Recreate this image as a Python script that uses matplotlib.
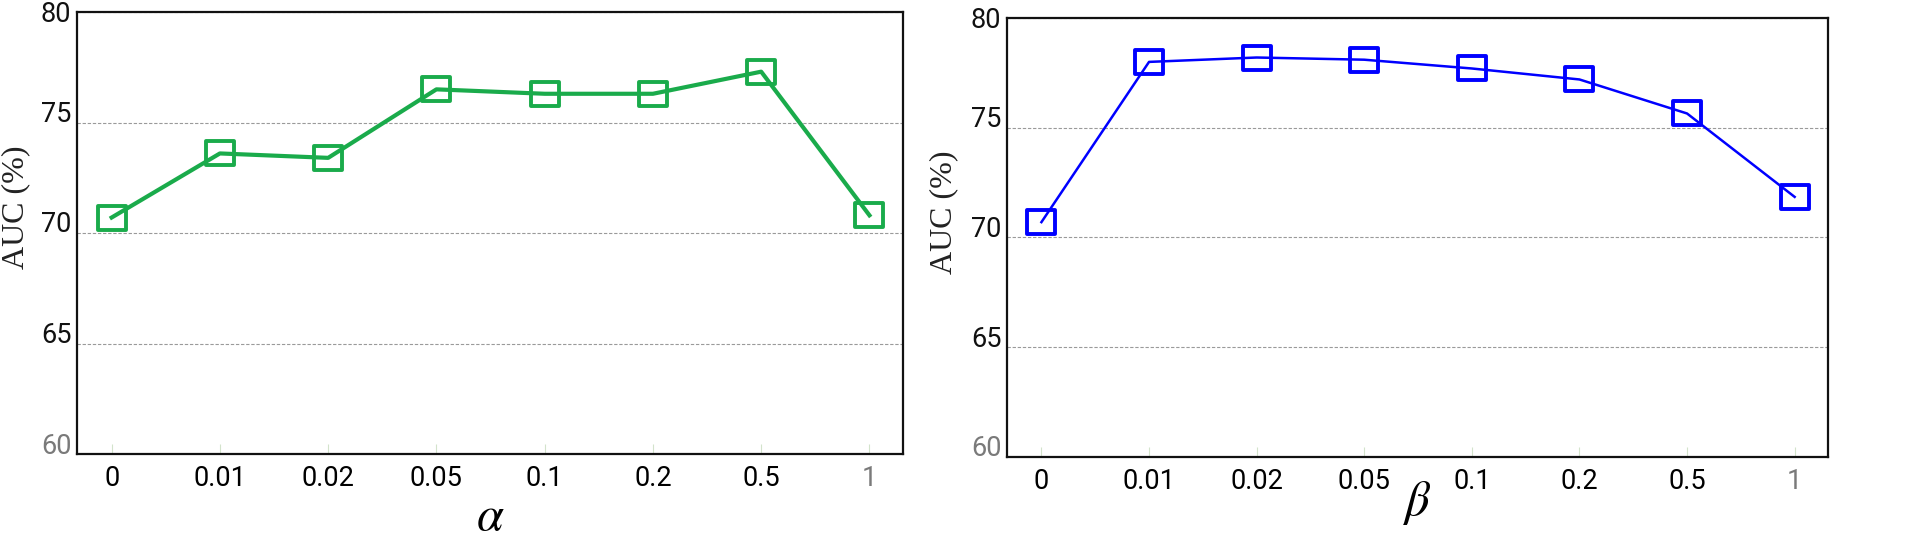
import matplotlib
matplotlib.use("Agg")
import matplotlib.pyplot as plt
import matplotlib.transforms as mtransforms
from matplotlib.path import Path

# values
x_labels = ["0", "0.01", "0.02", "0.05", "0.1", "0.2", "0.5", "1"]
auc_alpha = [70.7, 73.6, 73.4, 76.5, 76.3, 76.3, 77.3, 70.8]
auc_beta = [70.7, 78.0, 78.2, 78.1, 77.7, 77.2, 75.65, 71.85]
y_ticks = [60, 65, 70, 75, 80]

plt.rcParams["mathtext.fontset"] = "stix"

W, H, DPI = 1920, 553, 100
fig = plt.figure(figsize=(W / DPI, H / DPI), dpi=DPI)

# slightly wide hollow box, as in the picture
box = Path([(-1.12, -1), (1.12, -1), (1.12, 1), (-1.12, 1), (-1.12, -1)],
           [Path.MOVETO, Path.LINETO, Path.LINETO, Path.LINETO, Path.CLOSEPOLY])


def px_axes(l, t, r, b):
    return fig.add_axes([l / W, 1 - b / H, (r - l) / W, (b - t) / H])


def draw_panel(ax, values, color, lw, sym, label_top, ylab_xy):
    xs = list(range(len(values)))
    ax.plot(xs, values, color=color, lw=lw, marker=box, markersize=19.5,
            markerfacecolor="none", markeredgecolor=color, markeredgewidth=2.8,
            zorder=3)
    ax.set_xlim(-0.32, len(values) - 1 + 0.31)
    ax.set_ylim(60, 80)
    ax.set_xticks(xs)
    ax.set_xticklabels(x_labels, fontsize=19.5, family="Roboto")
    ax.set_yticks(y_ticks)
    ax.set_yticklabels([str(v) for v in y_ticks], fontsize=19.5, family="Roboto")
    ax.tick_params(axis="x", direction="in", length=7, width=0.8,
                   color="#d3e3cb", pad=8)
    ax.tick_params(axis="y", length=0, pad=4)
    ax.yaxis.grid(True, linestyle=(0, (3, 1.6)), color="#9a9a9a", lw=0.8)
    ax.set_axisbelow(True)
    for s in ax.spines.values():
        s.set_linewidth(1.6)
        s.set_color("#111111")

    # tick text sits a little above its gridline in the reference
    shift = mtransforms.ScaledTranslation(0, 11 / DPI, fig.dpi_scale_trans)
    for v, lab in zip(y_ticks, ax.get_yticklabels()):
        if v != 80:
            lab.set_transform(lab.get_transform() + shift)
        lab.set_color("#7a7a7a" if v == 60 else "#111111")
    ax.get_xticklabels()[-1].set_color("#7a7a7a")

    ax.text(ylab_xy[0], ylab_xy[1], "AUC (%)", transform=ax.transAxes,
            rotation=90, ha="center", va="center", fontsize=23,
            family="Liberation Serif", color="#222222")
    ax.text(0.5, label_top, sym, transform=ax.transAxes, ha="center",
            va="top", fontsize=35)


ax1 = px_axes(77, 12, 903, 454)
draw_panel(ax1, auc_alpha, "#1aab4b", 3.0, r"$\alpha$", -0.085,
           ((16 - 77) / 826, (454 - 207) / 442))

ax2 = px_axes(1007, 18, 1828, 457)
draw_panel(ax2, auc_beta, "#0000ff", 1.8, r"$\beta$", -0.05,
           ((944 - 1007) / 821, (457 - 212) / 439))

fig.savefig("out.png", dpi=DPI)
